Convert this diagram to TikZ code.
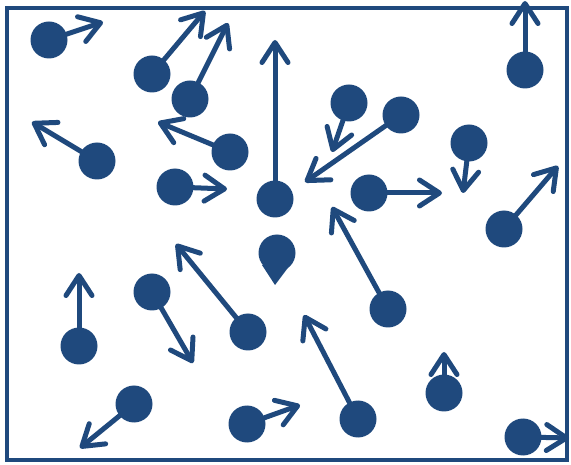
\documentclass[tikz,border=0pt]{standalone}
\usetikzlibrary{arrows.meta,backgrounds}
\definecolor{particle}{HTML}{1F497D}
\tikzset{
  ball/.style={circle,fill=particle,minimum size=37pt,inner sep=0pt},
  vel/.style={draw=particle,line width=5pt,line cap=round,
    -{Straight Barb[length=20pt,width=26pt,round]}},
  wall/.style={draw=particle,line width=4.5pt}
}
\begin{document}
\begin{tikzpicture}[x=1pt,y=-1pt]
\useasboundingbox (0,0) rectangle (571,465);
% container
\draw[wall] (7,8) rectangle (567,460);
% particle positions and velocity tips
\foreach \n/\x/\y/\tx/\ty in {
  1/49/40/103/22, 2/152/74/205/11, 3/190/99/228/23, 4/275/199/275/40,
  5/349/103/332/152, 6/401/115/305/182, 7/525/70/525/1,
  8/97/161/32/122, 9/230/152/158/122, 10/175/187/227/189,
  11/369/193/442/193, 12/469/143/463/193, 13/504/229/558/166,
  14/277/253/275/285, 15/152/292/193/363, 16/248/332/176/244,
  17/388/309/332/207, 18/79/346/79/273, 19/134/404/80/448,
  20/247/424/300/405, 21/358/419/304/315, 22/444/393/444/352,
  23/523/437/569/438}{
  \coordinate (c\n) at (\x,\y);
  \coordinate (t\n) at (\tx,\ty);
}
\foreach \n in {1,...,23}{
  \node[ball] (p\n) at (c\n) {};
}
\begin{scope}[on background layer]
  \foreach \n in {1,...,13,15,16,...,23}{
    \draw[vel] (p\n.center) -- (t\n);
  }
\end{scope}
% the slow particle: its velocity tip barely leaves the ball
\fill[particle] (p14.center) ++(-15,12) -- (t14) -- ++(15,-20) -- cycle;
\end{tikzpicture}
\end{document}
